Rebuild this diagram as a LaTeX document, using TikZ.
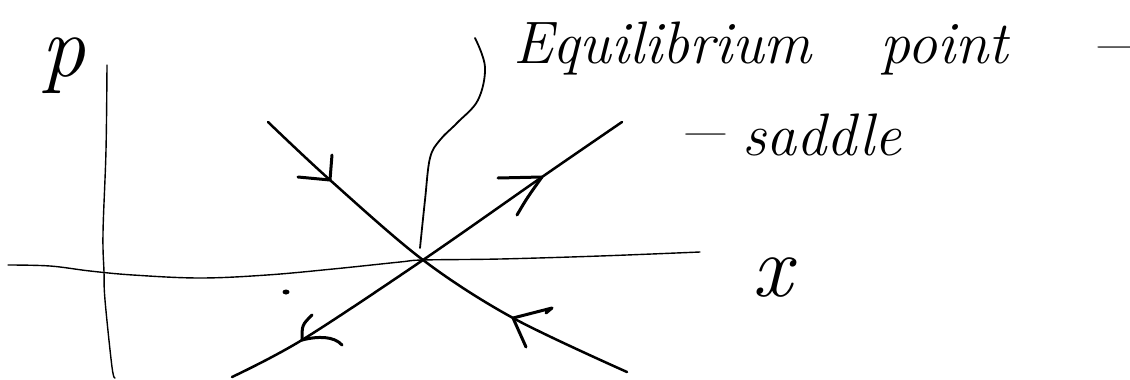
\documentclass[tikz,border=0pt]{standalone}
\usetikzlibrary{calc}
\tikzset{
  axisline/.style={line width=1.4pt, line cap=round, line join=round},
  manifold/.style={line width=2.5pt, line cap=round, line join=round},
  barb/.style={line width=3pt, line cap=round, line join=round},
  leader/.style={line width=1.8pt, line cap=round},
  hand/.style={font=\fontsize{60}{66}\selectfont\itshape, inner sep=0pt, anchor=base west},
  axlabel/.style={inner sep=0pt, anchor=base, font=\fontsize{88}{90}\selectfont\itshape},
}
\begin{document}
\begin{tikzpicture}[x=1pt,y=-1pt]
\useasboundingbox (0,0) rectangle (1130,380);
% key points
\coordinate (O) at (423,260);
% axes
\draw[axisline] plot[smooth, tension=0.6] coordinates {(107,65) (106,150) (103,233) (104,272) (105,300) (112,367) (115,378)};
\draw[axisline] plot[smooth, tension=0.6] coordinates {(8,265) (50,266) (90,271) (133,275) (200,278) (267,275) (333,269) (400,262) (O) (500,259) (600,256) (700,252)};
% stable manifold
\draw[manifold] plot[smooth, tension=0.55] coordinates {(268,122) (330,180) (O) (513,318) (627,372)};
% unstable manifold
\draw[manifold] plot[smooth, tension=0.55] coordinates {(232,377) (302,340) (O) (542,177) (622,122)};
% arrows on the stable manifold (inward)
\coordinate (a1) at (330,180);
\draw[barb] (332,155) -- (a1) -- (298,177);
\coordinate (a2) at (513,318);
\draw[barb] (546,313) -- (552,308) -- (a2) -- (526,347);
% arrows on the unstable manifold (outward)
\coordinate (a3) at (542,177);
\draw[barb] (498,178) -- (a3);
\draw[barb] (517,215) .. controls (527,198) .. (a3);
\coordinate (a4) at (302,340);
\draw[barb] (312,315) .. controls (302,325) .. (a4);
\draw[barb] (a4) .. controls (318,336) and (334,336) .. (342,345);
% dot
\fill (286,292) ellipse (3.5pt and 2.5pt);
% leader from the equilibrium to the label
\draw[leader] plot[smooth, tension=0.6] coordinates {(420,248) (425,200) (430,158) (440,140) (457,123) (478,100) (485,67) (475,38)};
% labels
\node[axlabel] (plab) at (63,76) {p};
\node[axlabel] (xlab) at (772,296) {x};
\node[hand] (eq) at (513,63) {Equilibrium};
\node[hand] (pt) at (880,63) {point};
\node[hand] (d1) at (1090,63) {\scalebox{1.35}[1]{--}};
\node[hand] (d2) at (677,150) {\scalebox{1.5}[1]{--}};
\node[hand] (sad) at (742,155) {saddle};
\end{tikzpicture}
\end{document}
